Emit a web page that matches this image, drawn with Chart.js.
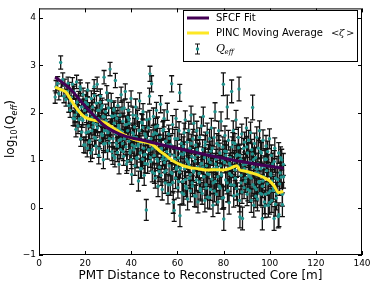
<!DOCTYPE html>
<html>
<head>
<meta charset="utf-8">
<script src="https://cdn.jsdelivr.net/npm/chart.js@4.4.1/dist/chart.umd.min.js"></script>
<style>
  html, body { margin: 0; padding: 0; background: #fff; }
  canvas { display: block; }
</style>
</head>
<body>
<canvas id="chart" width="374" height="289"></canvas>
<script>
// Q_eff measurements: distance [m], log10(Q_eff), error on log10
const qDist = [
  7.0, 7.4, 8.1, 8.6, 9.4, 9.8, 10.3, 10.8, 11.2, 11.7, 12.1, 12.6, 12.9,
  13.2, 13.5, 13.9, 14.1, 14.5, 14.8, 15.2, 15.6, 15.9, 16.3, 16.6, 16.9, 17.2, 17.5, 17.8, 18.1, 18.4, 18.8, 19.1, 19.4, 19.8,
  20.1, 20.4, 20.6, 20.9, 21.1, 21.4, 21.7, 21.9, 22.2, 22.4, 22.7, 22.9, 23.1, 23.3, 23.6, 23.9, 24.1, 24.4, 24.7, 24.9, 25.2, 25.4, 25.7, 25.9, 26.1, 26.4, 26.6, 26.9, 27.2, 27.4, 27.7, 27.9, 28.2, 28.4, 28.7, 28.9, 29.1, 29.4, 29.7, 29.9, 30.2, 30.5, 30.8, 30.9,
  31.1, 31.3, 31.6, 31.9, 32.1, 32.4, 32.6, 32.9, 33.1, 33.4, 33.7, 33.9, 34.2, 34.4, 34.7, 34.9, 35.1, 35.4, 35.6, 35.9, 36.2, 36.4, 36.7, 36.9, 37.1, 37.4, 37.7, 37.9, 38.2, 38.4, 38.7, 38.9, 39.1, 39.4, 39.6, 39.9, 40.2, 40.4, 40.7, 40.9,
  41.1, 41.4, 41.6, 41.9, 42.2, 42.4, 42.7, 42.9, 43.1, 43.3, 43.6, 43.9, 44.2, 44.4, 44.7, 44.9, 45.1, 45.4, 45.6, 45.9, 46.1, 46.5, 46.7, 46.9, 47.1, 47.4, 47.6, 47.9, 48.1, 48.3, 48.6, 48.8, 49.1, 49.4, 49.6, 49.9, 50.2, 50.4, 50.7, 50.9,
  51.1, 51.4, 51.6, 51.9, 52.2, 52.4, 52.7, 52.9, 53.1, 53.4, 53.7, 53.9, 54.2, 54.4, 54.7, 54.9, 55.1, 55.4, 55.6, 55.9, 56.2, 56.4, 56.7, 56.9, 57.1, 57.5, 57.7, 57.9, 58.2, 58.6, 58.8, 58.9, 59.2, 59.4, 59.7, 59.9, 60.2, 60.4, 60.7, 60.9,
  61.0, 61.1, 61.4, 61.7, 62.2, 62.4, 62.7, 62.9, 63.1, 63.4, 63.6, 63.9, 64.2, 64.4, 64.7, 64.9, 65.1, 65.4, 65.6, 65.9, 66.2, 66.4, 66.7, 66.9, 67.1, 67.4, 67.6, 67.9, 68.2, 68.4, 68.7, 68.9, 69.1, 69.4, 69.6, 69.9, 70.2, 70.4, 70.7, 70.9,
  71.2, 71.4, 71.7, 71.9, 72.1, 72.4, 72.6, 72.9, 73.1, 73.4, 73.7, 73.9, 74.2, 74.4, 74.7, 74.9, 75.1, 75.4, 75.6, 75.9, 76.3, 76.4, 76.7, 76.9, 77.1, 77.4, 77.6, 77.9, 78.2, 78.4, 78.7, 78.9, 79.1, 79.4, 79.7, 79.9, 80.1, 80.4, 80.6, 80.9,
  81.2, 81.6, 81.7, 81.9, 82.1, 82.4, 82.6, 82.9, 83.2, 83.5, 83.7, 83.9, 84.2, 84.4, 84.7, 84.9, 85.1, 85.4, 85.6, 85.9, 86.2, 86.4, 86.7, 86.9, 87.1, 87.4, 87.6, 87.9, 88.2, 88.4, 88.7, 88.9, 89.1, 89.4, 89.6, 89.9, 90.2, 90.4, 90.7, 90.9,
  91.2, 91.4, 91.7, 91.9, 92.2, 92.6, 92.7, 92.9, 93.1, 93.4, 93.6, 93.9, 94.2, 94.4, 94.7, 94.9, 95.1, 95.4, 95.6, 95.9, 96.2, 96.4, 96.8, 96.9, 97.1, 97.4, 97.7, 97.9, 98.2, 98.4, 98.7, 98.9, 99.1, 99.4, 99.6, 99.9, 100.2, 100.4, 100.7, 100.9,
  101.3, 101.6, 101.9, 102.2, 102.6, 102.9, 103.2, 103.7, 103.9, 104.3, 104.7, 105.2, 105.5, 105.9, 106.0
];
const qLog = [
  2.33, 2.55, 2.62, 2.40, 3.06, 2.48, 2.70, 2.35, 2.58, 2.28, 2.45, 2.62, 2.15,
  2.50, 2.05, 2.33, 2.20, 2.60, 1.88, 2.42, 1.95, 2.15, 2.65, 2.02, 1.72, 2.30, 1.85, 2.55, 1.45, 2.12, 1.90, 2.38, 1.32, 2.05,
  2.22, 1.58, 1.95, 1.25, 2.48, 1.72, 1.38, 2.05, 1.85, 1.15, 2.30, 1.62, 1.22, 2.12, 1.78, 2.55, 1.48, 1.95, 1.30, 2.20, 2.60, 1.68, 1.88, 1.10, 2.05, 1.42, 2.35, 1.75, 1.55, 2.15, 1.92, 1.01, 2.75, 1.62, 1.35, 2.02, 1.82, 2.42, 1.20, 1.58, 2.10, 1.45, 2.92, 1.70,
  1.65, 2.25, 1.18, 1.92, 1.45, 2.05, 1.78, 1.05, 2.68, 1.55, 1.88, 1.30, 2.15, 1.68, 0.91, 1.42, 1.95, 1.22, 2.38, 1.60, 1.35, 1.82, 1.08, 2.10, 1.52, 2.45, 1.28, 1.75, 0.98, 1.62, 2.05, 1.40, 1.85, 1.15, 1.48, 2.30, 0.70, 1.32, 1.95, 1.55,
  1.22, 1.70, 0.88, 2.12, 1.48, 1.05, 1.88, 1.30, 0.56, 1.62, 2.25, 1.15, 1.38, 0.82, 1.78, 1.02, 2.02, 1.25, 0.68, 1.55, 1.12, -0.05, 1.85, 1.40, 0.92, 1.68, 1.20, 2.35, 2.82, 1.05, 1.45, 2.61, 0.75, 1.30, 1.92, 1.10, 1.58, 0.62, 1.25, 2.05,
  1.02, 1.72, 0.45, 1.35, 0.85, 1.48, 2.18, 0.68, 1.25, 0.38, 1.62, 1.08, 1.88, 0.95, 0.52, 1.40, 0.78, 1.18, 2.02, 0.30, 1.55, 0.88, 1.12, 0.48, 1.32, 2.61, 0.72, 1.75, 0.11, -0.06, 1.02, 1.45, 0.62, 1.88, 0.85, 1.22, 0.42, 1.05, 1.62, 0.75,
  2.42, -0.17, 0.92, 1.35, 0.55, 1.12, 0.28, 1.58, 0.82, 1.85, 0.45, 1.02, 1.38, 0.18, 0.95, 1.62, 0.62, 1.25, 0.35, 1.95, 1.08, 0.52, 1.45, 0.78, 1.78, 0.25, 0.98, 1.32, 0.58, 1.62, 0.85, 0.12, 1.15, 0.72, 1.48, 0.40, 0.92, 1.72, 0.30, 1.22,
  1.92, 0.65, 1.05, 0.15, 1.38, 0.48, 0.88, 1.58, 0.22, 1.12, 0.70, 1.45, 0.95, 0.38, 1.68, 0.60, 1.25, 0.05, 0.82, 1.48, 2.02, 0.55, 1.02, 0.28, 1.35, 0.78, 0.12, 1.62, 0.45, 1.15, 0.88, 1.82, 0.68, 0.20, 1.28, 2.60, -0.24, 0.95, 1.52, 0.58,
  1.18, 2.12, 0.35, 0.82, 1.42, 0.10, 0.72, 1.05, 0.48, 2.45, 1.28, 0.85, 1.62, 0.25, 0.98, 1.35, 0.62, 1.85, 0.40, 1.12, 0.88, 1.48, 2.50, 0.15, -0.20, 1.02, 0.68, 1.55, -0.23, 0.78, 1.25, 0.42, 1.38, 0.55, 0.92, 1.68, 0.28, 1.15, 0.72, 1.42,
  0.95, 0.35, 1.58, 0.62, 1.22, 2.11, 0.48, 0.85, 0.05, 1.35, 0.72, 1.05, 0.38, 1.48, 0.18, 0.92, 1.25, 0.55, 1.62, 0.30, 0.82, 1.15, -0.23, 0.45, 1.42, 0.65, 0.12, 1.02, 0.28, 1.30, 0.78, 0.50, 1.18, 0.05, 0.88, 1.45, 0.35, 0.72, 1.10, 0.15,
  0.92, 0.42, -0.23, 1.25, 0.62, 0.20, 0.85, -0.19, 1.15, 0.50, 1.05, 1.01, 0.28, 0.91, 0.65
];
const qErr = [
  0.13, 0.13, 0.14, 0.13, 0.14, 0.13, 0.14, 0.14, 0.13, 0.14, 0.14, 0.13, 0.14,
  0.14, 0.15, 0.14, 0.15, 0.14, 0.15, 0.14, 0.15, 0.15, 0.14, 0.15, 0.16, 0.15, 0.15, 0.14, 0.16, 0.15, 0.15, 0.14, 0.16, 0.15,
  0.16, 0.17, 0.16, 0.18, 0.15, 0.17, 0.18, 0.16, 0.17, 0.18, 0.16, 0.17, 0.18, 0.16, 0.17, 0.15, 0.17, 0.16, 0.18, 0.16, 0.15, 0.17, 0.16, 0.18, 0.16, 0.18, 0.15, 0.17, 0.17, 0.16, 0.16, 0.19, 0.14, 0.17, 0.18, 0.16, 0.16, 0.15, 0.18, 0.17, 0.16, 0.17, 0.14, 0.17,
  0.17, 0.16, 0.19, 0.17, 0.18, 0.17, 0.17, 0.19, 0.15, 0.18, 0.17, 0.18, 0.17, 0.18, 0.20, 0.18, 0.17, 0.19, 0.16, 0.18, 0.18, 0.17, 0.19, 0.17, 0.18, 0.16, 0.19, 0.17, 0.20, 0.18, 0.17, 0.18, 0.17, 0.19, 0.18, 0.16, 0.21, 0.18, 0.17, 0.18,
  0.19, 0.18, 0.20, 0.17, 0.18, 0.20, 0.17, 0.19, 0.21, 0.18, 0.17, 0.19, 0.19, 0.20, 0.18, 0.20, 0.17, 0.19, 0.21, 0.18, 0.19, 0.22, 0.17, 0.19, 0.20, 0.18, 0.19, 0.17, 0.16, 0.20, 0.19, 0.17, 0.21, 0.19, 0.18, 0.20, 0.18, 0.21, 0.19, 0.17,
  0.20, 0.19, 0.22, 0.20, 0.21, 0.19, 0.18, 0.21, 0.20, 0.22, 0.19, 0.20, 0.18, 0.21, 0.22, 0.20, 0.21, 0.20, 0.18, 0.22, 0.19, 0.21, 0.20, 0.22, 0.20, 0.17, 0.21, 0.19, 0.23, 0.23, 0.21, 0.20, 0.22, 0.19, 0.21, 0.20, 0.22, 0.21, 0.19, 0.21,
  0.18, 0.23, 0.21, 0.20, 0.22, 0.21, 0.23, 0.20, 0.21, 0.19, 0.22, 0.21, 0.20, 0.23, 0.21, 0.20, 0.22, 0.20, 0.23, 0.19, 0.21, 0.22, 0.20, 0.21, 0.19, 0.23, 0.21, 0.20, 0.22, 0.20, 0.21, 0.23, 0.21, 0.22, 0.20, 0.22, 0.21, 0.19, 0.23, 0.21,
  0.20, 0.22, 0.21, 0.24, 0.21, 0.22, 0.21, 0.20, 0.23, 0.21, 0.22, 0.20, 0.21, 0.23, 0.20, 0.22, 0.21, 0.24, 0.22, 0.20, 0.19, 0.22, 0.21, 0.23, 0.21, 0.22, 0.24, 0.20, 0.22, 0.21, 0.22, 0.20, 0.22, 0.23, 0.21, 0.24, 0.24, 0.22, 0.20, 0.22,
  0.22, 0.25, 0.23, 0.22, 0.21, 0.24, 0.22, 0.23, 0.23, 0.24, 0.21, 0.22, 0.21, 0.24, 0.22, 0.21, 0.23, 0.20, 0.24, 0.22, 0.22, 0.21, 0.25, 0.24, 0.23, 0.22, 0.23, 0.21, 0.24, 0.22, 0.21, 0.23, 0.21, 0.23, 0.22, 0.21, 0.24, 0.22, 0.23, 0.21,
  0.23, 0.24, 0.22, 0.23, 0.22, 0.26, 0.24, 0.23, 0.25, 0.22, 0.23, 0.22, 0.24, 0.22, 0.25, 0.23, 0.22, 0.24, 0.21, 0.25, 0.23, 0.22, 0.24, 0.24, 0.22, 0.23, 0.25, 0.22, 0.24, 0.22, 0.23, 0.24, 0.22, 0.25, 0.23, 0.21, 0.24, 0.23, 0.22, 0.25,
  0.23, 0.24, 0.25, 0.22, 0.24, 0.25, 0.23, 0.24, 0.22, 0.24, 0.23, 0.22, 0.25, 0.23, 0.24
];

// more Q_eff measurements from the dense core of the cloud
const coreDist = [
  15.0, 15.5, 16.0, 16.5, 17.0, 17.5, 18.0, 18.5, 19.0, 19.5,
  20.0, 20.5, 21.0, 21.5, 22.0, 22.5, 23.0, 23.5, 24.0, 24.5, 25.0, 25.5, 26.0, 26.5, 27.0, 27.5, 28.0, 28.5, 29.0, 29.5, 30.0, 30.5,
  31.0, 31.5, 32.0, 32.5, 33.0, 33.5, 34.0, 34.5, 35.0, 35.5, 36.0, 36.5, 37.0, 37.5, 38.0, 38.5, 39.0, 39.5, 40.0, 40.5,
  41.0, 41.5, 42.0, 42.5, 43.0, 43.5, 44.0, 44.5, 45.0, 45.5, 46.0, 46.3, 47.0, 47.5, 48.0, 48.5, 49.0, 49.5, 50.0, 50.5,
  51.0, 51.5, 52.0, 52.5, 53.0, 53.5, 54.0, 54.5, 55.0, 55.5, 56.0, 56.5, 57.0, 57.3, 58.0, 58.5, 59.0, 59.5, 60.0, 60.5,
  61.3, 61.5, 62.0, 62.5, 63.0, 63.5, 64.0, 64.5, 65.0, 65.5, 66.0, 66.5, 67.0, 67.5, 68.0, 68.5, 69.0, 69.5, 70.0, 70.5,
  71.0, 71.5, 72.0, 72.5, 73.0, 73.5, 74.0, 74.5, 75.0, 75.5, 76.0, 76.5, 77.0, 77.5, 78.0, 78.5, 79.0, 79.5, 80.0, 80.5,
  81.0, 81.5, 82.0, 82.5, 83.0, 83.4, 84.0, 84.5, 85.0, 85.5, 86.0, 86.5, 87.0, 87.5, 88.0, 88.5, 89.0, 89.5, 90.0, 90.5,
  91.0, 91.5, 92.0, 92.5, 93.0, 93.5, 94.0, 94.5, 95.0, 95.5, 96.0, 96.5, 97.0, 97.5, 98.0, 98.5, 99.0, 99.5, 100.0, 100.5,
  101.0, 101.5, 102.0, 102.5, 103.0, 103.5, 104.0, 104.5, 105.0, 105.5
];
const coreLog = [
  2.45, 1.87, 1.65, 2.22, 2.07, 1.87, 2.49, 1.59, 1.84, 2.14,
  1.32, 2.30, 2.18, 1.60, 1.41, 1.98, 1.90, 1.70, 2.36, 1.46, 1.75, 2.05, 1.24, 2.22, 2.10, 1.52, 1.34, 1.91, 1.83, 1.63, 2.26, 1.36,
  1.63, 1.93, 1.10, 2.08, 1.94, 1.36, 1.16, 1.73, 1.64, 1.44, 2.08, 1.18, 1.45, 1.75, 0.92, 1.90, 1.78, 1.20, 1.01, 1.58,
  1.49, 1.29, 1.94, 1.04, 1.33, 1.63, 0.82, 1.80, 1.69, 1.11, 0.93, 1.50, 1.42, 1.22, 1.87, 0.97, 1.24, 1.54, 0.72, 1.70,
  1.56, 0.98, 0.76, 1.33, 1.22, 1.02, 1.65, 0.75, 1.02, 1.32, 0.48, 1.46, 1.32, 0.74, 0.53, 1.10, 1.01, 0.81, 1.45, 0.55,
  0.83, 1.13, 0.31, 1.29, 1.17, 0.59, 0.40, 0.97, 0.89, 0.69, 1.35, 0.45, 0.75, 1.05, 0.24, 1.22, 1.12, 0.54, 0.36, 0.93,
  0.85, 0.65, 1.31, 0.41, 0.71, 1.01, 0.21, 1.19, 1.10, 0.52, 0.35, 0.92, 0.85, 0.65, 1.31, 0.41, 0.71, 1.01, 0.21, 1.19,
  1.10, 0.52, 0.36, 0.93, 0.88, 0.68, 1.37, 0.47, 0.79, 1.09, 0.28, 1.26, 1.10, 0.52, 0.33, 0.90, 0.82, 0.62, 1.28, 0.38,
  0.66, 0.96, 0.15, 1.13, 1.01, 0.43, 0.24, 0.81, 0.73, 0.53, 1.18, 0.28, 0.56, 0.86, 0.04, 1.02, 0.89, 0.31, 0.11, 0.68,
  0.56, 0.36, 0.97, 0.07, 0.29, 0.59, -0.15, 0.73, 0.64, 0.06
];
const coreErr = [
  0.15, 0.15, 0.16, 0.15, 0.15, 0.16, 0.14, 0.16, 0.15, 0.15,
  0.17, 0.16, 0.16, 0.17, 0.17, 0.16, 0.16, 0.17, 0.15, 0.17, 0.17, 0.16, 0.18, 0.16, 0.16, 0.17, 0.18, 0.16, 0.17, 0.17, 0.16, 0.18,
  0.18, 0.17, 0.19, 0.17, 0.17, 0.18, 0.19, 0.18, 0.18, 0.18, 0.17, 0.19, 0.18, 0.18, 0.20, 0.17, 0.17, 0.19, 0.19, 0.18,
  0.19, 0.19, 0.18, 0.20, 0.19, 0.18, 0.20, 0.18, 0.18, 0.19, 0.20, 0.19, 0.19, 0.19, 0.18, 0.20, 0.19, 0.19, 0.21, 0.18,
  0.19, 0.20, 0.21, 0.20, 0.20, 0.21, 0.19, 0.21, 0.21, 0.20, 0.22, 0.20, 0.20, 0.21, 0.22, 0.20, 0.21, 0.21, 0.20, 0.22,
  0.21, 0.21, 0.23, 0.20, 0.21, 0.22, 0.22, 0.21, 0.21, 0.22, 0.20, 0.22, 0.22, 0.21, 0.23, 0.21, 0.21, 0.22, 0.22, 0.21,
  0.22, 0.22, 0.21, 0.23, 0.22, 0.22, 0.24, 0.21, 0.21, 0.22, 0.23, 0.22, 0.22, 0.22, 0.21, 0.23, 0.22, 0.22, 0.24, 0.21,
  0.22, 0.23, 0.24, 0.22, 0.22, 0.23, 0.21, 0.23, 0.22, 0.22, 0.24, 0.22, 0.22, 0.23, 0.24, 0.22, 0.23, 0.23, 0.22, 0.24,
  0.23, 0.23, 0.25, 0.22, 0.23, 0.24, 0.24, 0.23, 0.23, 0.24, 0.22, 0.24, 0.24, 0.23, 0.25, 0.22, 0.23, 0.24, 0.25, 0.23,
  0.24, 0.24, 0.23, 0.25, 0.24, 0.24, 0.25, 0.23, 0.24, 0.25
];

// SFCF fit curve
const fitDist = [7, 10, 14, 18, 22, 26, 30, 35, 40, 45, 50, 60, 70, 80, 90, 100, 106];
const fitLog = [2.75, 2.64, 2.48, 2.25, 2.03, 1.83, 1.67, 1.55, 1.47, 1.42, 1.36, 1.25, 1.14, 1.04, 0.95, 0.87, 0.83];

// PINC moving average <zeta>
const avgDist = [7, 9, 11.6, 14.4, 16.5, 18.8, 21, 23.1, 26, 28.9, 31.5, 34.7, 37.5, 40.4, 44, 47.7, 50, 52.4, 55, 58.2, 61.5, 65.5, 69, 72.7, 76, 79.9, 82.5, 85.7, 87.1, 89, 91.5, 93.5, 95.8, 98, 100.1, 102, 103.7, 105.9];
const avgLog = [2.54, 2.50, 2.44, 2.23, 2.08, 1.95, 1.88, 1.85, 1.82, 1.78, 1.70, 1.60, 1.52, 1.45, 1.40, 1.36, 1.30, 1.19, 1.10, 0.98, 0.90, 0.84, 0.82, 0.79, 0.80, 0.79, 0.82, 0.88, 0.79, 0.77, 0.74, 0.71, 0.67, 0.62, 0.56, 0.45, 0.32, 0.34];

const xTicks = [0, 20, 40, 60, 80, 100, 120, 140];
const yTicks = [-1, 0, 1, 2, 3, 4];

const FONT = "'DejaVu Sans', sans-serif";
const PURPLE = '#440154';
const YELLOW = '#fde725';
const TEAL = '#21918c';

const allDist = qDist.concat(coreDist);
const allLog = qLog.concat(coreLog);
const allErr = qErr.concat(coreErr);

// error bars under the points
const errorBars = {
  id: 'errorBars',
  beforeDatasetsDraw(chart) {
    const { ctx, chartArea, scales: { x, y } } = chart;
    ctx.save();
    ctx.beginPath();
    ctx.rect(chartArea.left, chartArea.top, chartArea.right - chartArea.left, chartArea.bottom - chartArea.top);
    ctx.clip();
    ctx.strokeStyle = '#111';
    ctx.lineWidth = 1.3;
    for (let i = 0; i < allDist.length; i++) {
      const px = x.getPixelForValue(allDist[i]);
      const lo = y.getPixelForValue(allLog[i] - allErr[i]);
      const hi = y.getPixelForValue(allLog[i] + allErr[i]);
      ctx.beginPath();
      ctx.moveTo(px, lo); ctx.lineTo(px, hi);
      ctx.moveTo(px - 2.5, lo); ctx.lineTo(px + 2.5, lo);
      ctx.moveTo(px - 2.5, hi); ctx.lineTo(px + 2.5, hi);
      ctx.stroke();
    }
    ctx.restore();
  }
};

// frame, inward ticks, titles, legend
const decorations = {
  id: 'decorations',
  afterDraw(chart) {
    const { ctx, chartArea: a, scales: { x, y } } = chart;
    ctx.save();
    ctx.strokeStyle = '#000';
    ctx.lineWidth = 1;
    ctx.strokeRect(a.left + 0.5, a.top + 0.5, a.right - a.left - 1, a.bottom - a.top - 1);

    ctx.beginPath();
    xTicks.forEach(v => {
      const px = Math.round(x.getPixelForValue(v)) + 0.5;
      ctx.moveTo(px, a.bottom); ctx.lineTo(px, a.bottom - 4);
      ctx.moveTo(px, a.top); ctx.lineTo(px, a.top + 4);
    });
    yTicks.forEach(v => {
      const py = Math.round(y.getPixelForValue(v)) + 0.5;
      ctx.moveTo(a.left, py); ctx.lineTo(a.left + 4, py);
      ctx.moveTo(a.right, py); ctx.lineTo(a.right - 4, py);
    });
    ctx.stroke();

    // x title
    ctx.fillStyle = '#000';
    ctx.font = '12px ' + FONT;
    ctx.textAlign = 'center';
    ctx.textBaseline = 'middle';
    ctx.fillText('PMT Distance to Reconstructed Core [m]', (a.left + a.right) / 2, 276);

    // y title with subscripts
    const parts = [
      ['log', '12px ' + FONT, 0],
      ['10', '8px ' + FONT, 3],
      ['(Q', '12px ' + FONT, 0],
      ['eff', 'italic 8px ' + FONT, 3],
      [')', '12px ' + FONT, 0]
    ];
    let total = 0;
    parts.forEach(p => { ctx.font = p[1]; total += ctx.measureText(p[0]).width; });
    ctx.save();
    ctx.translate(0, 129);
    ctx.rotate(-Math.PI / 2);
    ctx.textAlign = 'left';
    ctx.textBaseline = 'alphabetic';
    let cx = -total / 2;
    parts.forEach(p => {
      ctx.font = p[1];
      ctx.fillText(p[0], cx, 14 + p[2]);
      cx += ctx.measureText(p[0]).width;
    });
    ctx.restore();

    // legend
    const lx = 183.5, ly = 10.5, lw = 174, lh = 51;
    ctx.fillStyle = '#fff';
    ctx.fillRect(lx, ly, lw, lh);
    ctx.strokeStyle = '#000';
    ctx.strokeRect(lx, ly, lw, lh);

    ctx.lineWidth = 3;
    ctx.strokeStyle = PURPLE;
    ctx.beginPath(); ctx.moveTo(187, 18); ctx.lineTo(209, 18); ctx.stroke();
    ctx.strokeStyle = YELLOW;
    ctx.beginPath(); ctx.moveTo(187, 33); ctx.lineTo(209, 33); ctx.stroke();

    ctx.lineWidth = 1;
    ctx.strokeStyle = '#111';
    ctx.beginPath();
    ctx.moveTo(197.5, 44); ctx.lineTo(197.5, 54);
    ctx.moveTo(195, 44); ctx.lineTo(200, 44);
    ctx.moveTo(195, 54); ctx.lineTo(200, 54);
    ctx.stroke();
    ctx.fillStyle = TEAL;
    ctx.beginPath(); ctx.arc(197.5, 49, 1.7, 0, Math.PI * 2); ctx.fill();

    ctx.fillStyle = '#000';
    ctx.textAlign = 'left';
    ctx.textBaseline = 'middle';
    ctx.font = '10px ' + FONT;
    ctx.fillText('SFCF Fit', 216, 18);
    ctx.fillText('PINC Moving Average', 216, 33);
    ctx.font = "10px 'DejaVu Serif', serif";
    ctx.fillText('<', 331, 33);
    ctx.font = "italic 10px 'DejaVu Serif', serif";
    ctx.fillText('\u03b6', 339, 33);
    ctx.font = "10px 'DejaVu Serif', serif";
    ctx.fillText('>', 346, 33);
    ctx.font = "italic 11px 'DejaVu Serif', serif";
    ctx.fillText('Q', 216, 49);
    ctx.font = "italic 7px 'DejaVu Serif', serif";
    ctx.fillText('eff', 224.5, 52);
    ctx.restore();
  }
};

const ctx = document.getElementById('chart').getContext('2d');
new Chart(ctx, {
  type: 'scatter',
  data: {
    datasets: [
      {
        type: 'line',
        label: 'SFCF Fit',
        data: fitDist.map((d, i) => ({ x: d, y: fitLog[i] })),
        borderColor: PURPLE,
        borderWidth: 3,
        pointRadius: 0,
        tension: 0.3,
        fill: false,
        order: 0
      },
      {
        type: 'line',
        label: 'PINC Moving Average <\u03b6>',
        data: avgDist.map((d, i) => ({ x: d, y: avgLog[i] })),
        borderColor: YELLOW,
        borderWidth: 3,
        pointRadius: 0,
        tension: 0.2,
        fill: false,
        order: 1
      },
      {
        label: 'Q_eff',
        data: allDist.map((d, i) => ({ x: d, y: allLog[i] })),
        backgroundColor: TEAL,
        borderWidth: 0,
        pointRadius: 1.7,
        order: 2
      }
    ]
  },
  options: {
    responsive: false,
    devicePixelRatio: 1,
    animation: false,
    layout: { padding: { top: 5, right: 12, left: 0, bottom: 0 } },
    plugins: { legend: { display: false }, tooltip: { enabled: false } },
    scales: {
      x: {
        type: 'linear',
        min: 0, max: 140,
        afterFit: s => { s.height = 34; },
        grid: { display: false, drawTicks: false },
        border: { display: false },
        ticks: { stepSize: 20, padding: 3, color: '#000', font: { family: FONT, size: 9 }, maxRotation: 0 }
      },
      y: {
        type: 'linear',
        min: -1, max: 4.2,
        afterFit: s => { s.width = 39; },
        grid: { display: false, drawTicks: false },
        border: { display: false },
        ticks: {
          stepSize: 1, includeBounds: false, padding: 3, color: '#000',
          font: { family: FONT, size: 9 },
          callback: v => String(v).replace('-', '\u2212')
        }
      }
    }
  },
  plugins: [errorBars, decorations]
});
</script>
</body>
</html>
